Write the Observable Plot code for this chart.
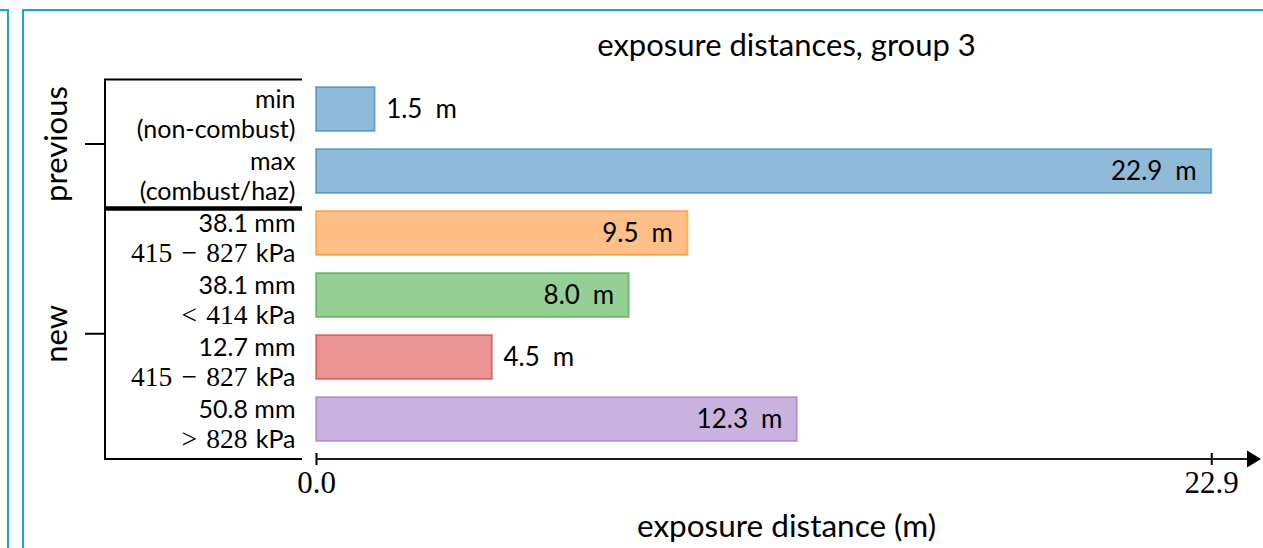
<!DOCTYPE html>
<html>
<head>
<meta charset="utf-8">
<script src="https://cdn.jsdelivr.net/npm/d3@7"></script>
<script src="https://cdn.jsdelivr.net/npm/@observablehq/plot@0.6"></script>
<style>
  html, body { margin: 0; padding: 0; background: #fff; overflow: hidden; }
  #wrap { position: relative; width: 1263px; height: 548px; }
  .panel { position: absolute; border: 2px solid #12a9cc; box-sizing: border-box; pointer-events: none; }
  #chart { position: absolute; left: 0; top: 0; }
</style>
</head>
<body>
<div id="wrap">
  <div id="chart"></div>
  <div class="panel" style="left:-100px; top:9px; width:109px; height:700px;"></div>
  <div class="panel" style="left:22px; top:9px; width:1400px; height:700px;"></div>
</div>
<script>
// Exposure distances by category
const groups        = ["previous", "previous", "new", "new", "new", "new"];
const sizeLabels    = ["min", "max", "38.1 mm", "38.1 mm", "12.7 mm", "50.8 mm"];
const detailLabels  = ["(non-combust)", "(combust/haz)", "415 − 827 kPa", "< 414 kPa", "415 − 827 kPa", "> 828 kPa"];
const distances     = [1.5, 22.9, 9.5, 8.0, 4.5, 12.3];
const barColors     = ["#1f77b4", "#1f77b4", "#ff7f0e", "#2ca02c", "#d62728", "#9467bd"];
const groupNames    = ["previous", "new"];
const xTicks        = [0, 22.9];
const title         = "exposure distances, group 3";
const xLabel        = "exposure distance (m)";

const SANS = "Lato, 'Open Sans', sans-serif";
const SERIF = "'Liberation Serif', 'DejaVu Serif', serif";

const rows = distances.map((d, i) => ({
  key: sizeLabels[i] + "\n" + detailLabels[i],
  group: groups[i],
  size: sizeLabels[i],
  detail: detailLabels[i],
  distance: d,
  color: barColors[i]
}));

const xMax = d3.max(distances) * 1.05;
const W = 1263, H = 548;
const M = {top: 78, right: 7, bottom: 89, left: 316};
const fmtValue = r => `${r.distance.toFixed(1)}\u2002m`;
const outside = r => r.distance / xMax < 0.25;

const plot = Plot.plot({
  width: W,
  height: H,
  marginTop: M.top,
  marginRight: M.right,
  marginBottom: M.bottom,
  marginLeft: M.left,
  style: {background: "transparent", color: "black", fontFamily: SANS, overflow: "visible"},
  x: {domain: [0, xMax]},
  y: {domain: rows.map(r => r.key), paddingInner: 0.29, paddingOuter: 0.145, insetBottom: 9, axis: null},
  color: {type: "identity"},
  marks: [
    Plot.barX(rows, {
      x: "distance", y: "key",
      fill: "color", fillOpacity: 0.5,
      stroke: "color", strokeOpacity: 0.5, strokeWidth: 2
    }),
    // value labels: inside the bar end, or just past it for short bars
    Plot.text(rows.filter(r => !outside(r)), {
      x: "distance", y: "key", text: fmtValue,
      textAnchor: "end", dx: -15, fontSize: 26, fill: "black"
    }),
    Plot.text(rows.filter(outside), {
      x: "distance", y: "key", text: fmtValue,
      textAnchor: "start", dx: 11, fontSize: 26, fill: "black"
    }),
    // two-line category labels
    Plot.text(rows, {
      y: "key", text: "size", frameAnchor: "left",
      textAnchor: "end", dx: -21, dy: -10, fontSize: 25, fill: "black"
    }),
    Plot.text(rows, {
      y: "key", text: "detail", frameAnchor: "left",
      textAnchor: "end", dx: -21, dy: 20, fontSize: 25, fill: "black"
    }),
    Plot.axisX({
      ticks: xTicks, tickFormat: d3.format(".1f"),
      tickSize: 12, dy: -6, tickPadding: 5, strokeWidth: 2,
      fontSize: 31, fontFamily: SERIF, label: null
    }),
    Plot.text([title], {text: d => d, frameAnchor: "top", dy: -45, fontSize: 31, fill: "black"}),
    Plot.text([xLabel], {text: d => d, frameAnchor: "bottom", dy: 77, fontSize: 31.5, fill: "black"})
  ]
});

document.getElementById("chart").appendChild(plot);

const svg = d3.select(plot);

// numbers and relations of the pressure ranges are set in a serif face
svg.selectAll("text").each(function () {
  if (this.querySelector("tspan")) return;
  const s = this.textContent;
  const m = s.match(/^(.+) (kPa)$/);
  if (!m) return;
  const t = d3.select(this);
  t.text(null);
  const math = m[1].replace(" − ", "\u2004−\u2004").replace(/^([<>]) /, "$1\u2004");
  t.append("tspan").attr("font-family", SERIF).attr("font-size", 27.5).text(math);
  t.append("tspan").text("\u2004" + m[2]);
});

// grouped y-axis bracket
const y = plot.scale("y");
const x = plot.scale("x");
const bandStart = k => y.apply(k);
const yTop = y.range[0] + 1.5;
const yAxis = H - M.bottom;
const firstNew = rows.find(r => r.group === "new").key;
const ySep = bandStart(firstNew) - 2.5;
const xL = M.left - 211, xR = M.left - 14;

const deco = svg.append("g").attr("stroke", "black").attr("fill", "none");
deco.append("path").attr("stroke-width", 2)
  .attr("d", `M${xR},${yTop}H${xL}V${yAxis}H${xR}`);
deco.append("line").attr("stroke-width", 4.5)
  .attr("x1", xL - 1).attr("x2", xR).attr("y1", ySep).attr("y2", ySep);

const groupSpans = {previous: [yTop, ySep], new: [ySep, yAxis]};
groupNames.forEach(g => {
  const yc = (groupSpans[g][0] + groupSpans[g][1]) / 2;
  deco.append("line").attr("stroke-width", 2)
    .attr("x1", xL - 20).attr("x2", xL).attr("y1", yc).attr("y2", yc);
  svg.append("text")
    .attr("transform", `translate(${xL - 38},${yc}) rotate(-90)`)
    .attr("text-anchor", "middle")
    .attr("font-family", SANS).attr("font-size", 31).attr("fill", "black")
    .text(g);
});

// x-axis line with arrowhead
const xr = x.range;
const ax = svg.append("g");
ax.append("line").attr("stroke", "#1a1a1a").attr("stroke-width", 2)
  .attr("x1", xr[0]).attr("x2", xr[1] - 8).attr("y1", yAxis).attr("y2", yAxis);
ax.append("path").attr("fill", "black")
  .attr("d", `M${xr[1] - 9},${yAxis - 8.5}L${xr[1] + 5},${yAxis}L${xr[1] - 9},${yAxis + 8.5}Z`);
</script>
</body>
</html>
